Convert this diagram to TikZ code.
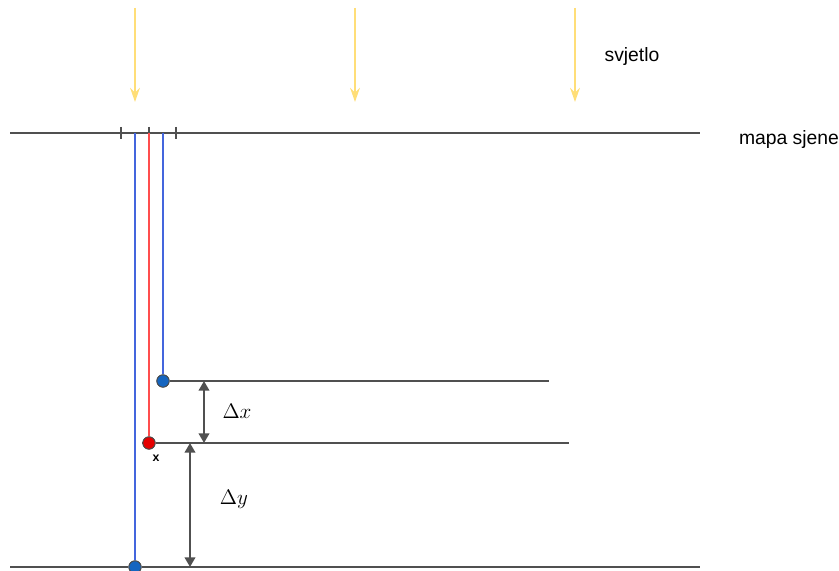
\documentclass[tikz,border=0pt]{standalone}
\usepackage{fontspec}
\setsansfont{Liberation Sans}
\usetikzlibrary{arrows.meta, positioning}
\definecolor{rayyellow}{RGB}{255,222,120}
\definecolor{sampleblue}{RGB}{68,102,221}
\definecolor{samplered}{RGB}{255,77,77}
\definecolor{dotblue}{RGB}{21,101,192}
\definecolor{dotred}{RGB}{230,0,0}
\definecolor{planegray}{RGB}{80,80,80}

\begin{document}
\begin{tikzpicture}[x=0.02cm, y=-0.02cm,
    plane/.style={planegray, line width=1.05pt},
    ray/.style={rayyellow, line width=1.3pt, -{Stealth[length=8pt, width=5.5pt]}},
    gap/.style={planegray, line width=1.2pt, {Triangle[length=5.5pt, width=6pt]}-{Triangle[length=5.5pt, width=6pt]}},
    dot/.style={circle, inner sep=0pt, minimum size=7pt, draw=black!70, line width=0.5pt},
    label/.style={font=\sffamily\fontsize{11}{13}\selectfont}]
    \useasboundingbox (0,0) rectangle (839,571);

    % Light rays
    \foreach \x in {135, 355, 575} {
        \coordinate (r\x a) at (\x,8);
        \coordinate (r\x b) at (\x,102);
        \draw[ray] (r\x a) -- (r\x b);
    }
    \node[label] (light) at (632,57) {svjetlo};

    % Shadow map plane
    \coordinate (mapL) at (10,133);
    \coordinate (mapR) at (700,133);
    \draw[plane] (mapL) -- (mapR);
    \node[label] (map) at (789,140) {mapa sjene};

    % Texel ticks
    \foreach \x in {121, 149, 176} {
        \draw[plane] (\x,127) -- (\x,139);
    }

    % Surface points
    \node[dot, fill=dotblue] (top) at (163,381) {};
    \node[dot, fill=dotred] (px) at (149,443) {};
    \node[dot, fill=dotblue] (bot) at (135,567) {};
    \node[font=\sffamily\bfseries\scriptsize] (xlab) at (156,458) {x};

    % Surfaces
    \coordinate (topR) at (549,381);
    \coordinate (midL) at (142,443);
    \coordinate (midR) at (569,443);
    \coordinate (botL) at (10,567);
    \coordinate (botR) at (700,567);
    \draw[plane] (top) -- (topR);
    \draw[plane] (midL) -- (px) -- (midR);
    \draw[plane] (botL) -- (bot) -- (botR);

    % Projections onto the shadow map
    \draw[sampleblue, line width=1.1pt] (135,133) -- (bot);
    \draw[samplered, line width=1.1pt] (149,133) -- (px);
    \draw[sampleblue, line width=1.1pt] (163,133) -- (top);

    % Depth differences
    \coordinate (dxA) at (204,381);
    \coordinate (dxB) at (204,443);
    \coordinate (dyA) at (190,443);
    \coordinate (dyB) at (190,567);
    \draw[gap] (dxA) -- (dxB);
    \draw[gap] (dyA) -- (dyB);
    \node[font=\large] (dx) at (237,411) {$\Delta x$};
    \node[font=\large] (dy) at (234,499) {$\Delta y$};

    % Redraw dots on top
    \node[dot, fill=dotblue] at (top) {};
    \node[dot, fill=dotred] at (px) {};
    \node[dot, fill=dotblue] at (bot) {};
\end{tikzpicture}
\end{document}
